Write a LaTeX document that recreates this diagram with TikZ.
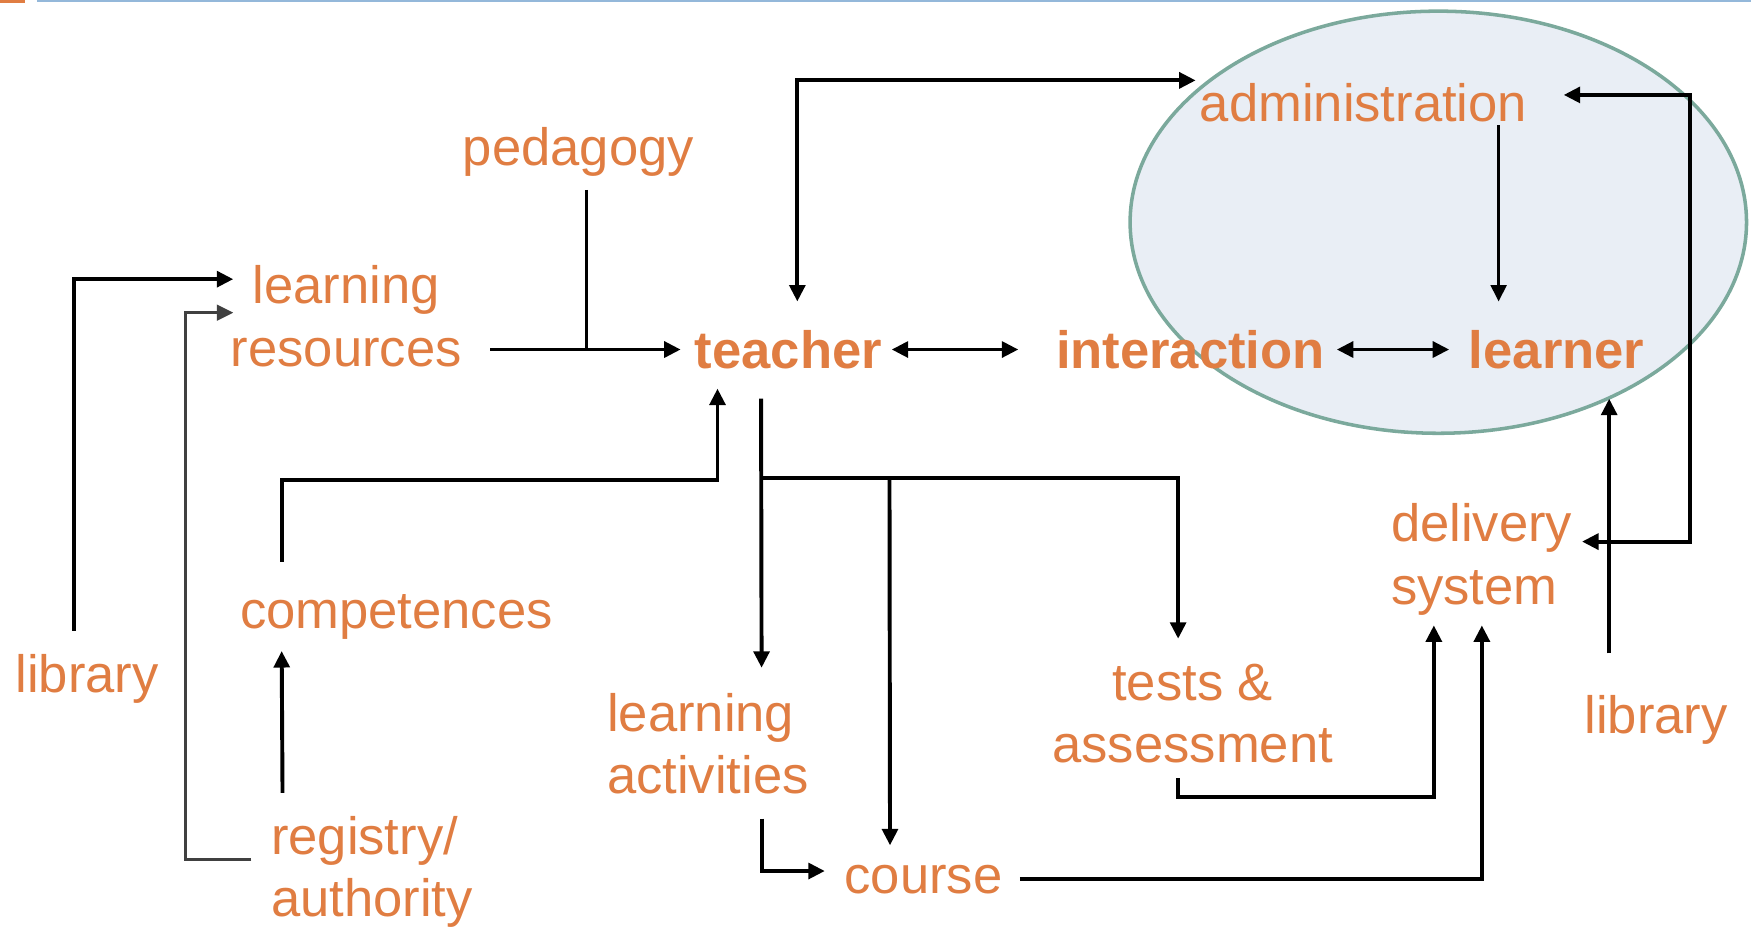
\documentclass[tikz,border=0pt]{standalone}
\usepackage{fontspec}
\setmainfont{Liberation Sans}
\usepackage{xcolor}
\usepackage{tikz}
\usetikzlibrary{calc,arrows.meta}
\definecolor{orng}{HTML}{E07D42}
\definecolor{rim}{HTML}{7BA99C}
\definecolor{pale}{HTML}{E9EEF5}
\definecolor{hdrblue}{HTML}{94B8DA}
\tikzset{
  lab/.style={text=orng, font=\fontsize{13.4pt}{15.9pt}\selectfont, inner sep=0pt, anchor=base},
  labb/.style={lab, font=\fontsize{13.4pt}{15.9pt}\selectfont\bfseries},
  link/.style={draw=black, line width=1pt},
  con/.style={link, -{Triangle[length=4.2pt,width=4pt]}},
  dbl/.style={link, {Triangle[length=4.2pt,width=4pt]}-{Triangle[length=4.2pt,width=4pt]}},
  ellip/.style={draw=rim, fill=pale, line width=0.9pt},
}
\begin{document}
\begin{tikzpicture}[x=0.1mm, y=-0.1mm]
  \useasboundingbox (0,0) rectangle (1568,831);
  % slide header
  \fill[orng] (0,0) rectangle (22,2.5);
  \draw[hdrblue, line width=0.5pt] (33,1) -- (1568,1);
  \draw[ellip] (1288,199) ellipse [x radius=276, y radius=189];

  % two-line labels sit on their last line
  \node[lab] (ped) at (518,148) {pedagogy};
  \node[lab, align=center] (lres) at (310,328) {learning\\resources};
  \node[labb] (teach) at (706,330) {teacher};
  \node[labb] (inter) at (1066,330) {interaction};
  \node[labb] (lrn) at (1394,330) {learner};
  \node[lab] (adm) at (1221,109) {administration};
  \node[lab] (comp) at (355,563) {competences};
  \node[lab] (libL) at (78,620) {library};
  \node[lab, anchor=base west, align=left] (reg) at (242,821) {registry/\\authority};
  \node[lab, anchor=base west, align=left] (lact) at (543,711) {learning\\activities};
  \node[lab] (course) at (827,800) {course};
  \node[lab, align=center] (tests) at (1068,683) {tests \&\\assessment};
  \node[lab, anchor=base west, align=left] (deliv) at (1245,541) {delivery\\system};
  \node[lab] (libR) at (1483,657) {library};

  % into learning resources and teacher
  \draw[con] ($(libL.base)+(-12,-55)$) |- ($(lres.base west)+(3,-78)$);
  \draw[con, draw=darkgray, line width=0.7pt] ($(reg.base west)+(-17,-51)$) -- ++(-59,0) |- ($(lres.base west)+(3,-48)$);
  \draw[con] ($(lres.base east)+(25,-15)$) -- ($(teach.base west)+(-12,-17)$);
  \draw[link, line width=0.8pt] ($(ped.base)+(7,22)$) -- ++(0,143);
  \draw[con] ($(comp.base west)+(38,-60)$) |- ($(teach.base west)+(21,100)$) -- ($(teach.base west)+(21,18)$);
  \draw[con] ($(reg.base west)+(11,-111)$) -- ($(comp.base west)+(38,20)$);

  % teacher, interaction, learner
  \draw[dbl] ($(teach.base east)+(8,-17)$) -- ($(inter.base west)+(-33,-17)$);
  \draw[dbl] ($(inter.base east)+(10,-17)$) -- ($(lrn.base west)+(-17,-17)$);
  \draw[dbl] ($(teach.base)+(8,-60)$) |- ($(adm.base west)+(-3,-37)$);
  \draw[con, line width=0.8pt] ($(adm.base)+(121,3)$) -- ($(lrn.base)+(-52,-60)$);
  \draw[dbl] ($(adm.base east)+(32,-24)$) -- ++(113,0) |- ($(deliv.base east)+(8,-56)$);
  \draw[con] ($(libR.base)+(-42,-72)$) -- ($(lrn.base)+(47,27)$);

  % teacher down to activities, course, tests
  \coordinate (tj) at ($(teach.base west)+(60,98)$);
  \draw[con] ($(teach.base west)+(60,27)$) -- ($(lact.base west)+(139,-113)$);
  \draw[con] (tj) -| ($(tests.base)+(-13,-111)$);
  \draw[con] ($(tj)+(115,0)$) -- ($(course.base)+(-30,-43)$);
  \draw[con] ($(lact.base west)+(139,22)$) |- ($(course.base west)+(-17,-20)$);
  \draw[con] ($(tests.base)+(-13,14)$) -- ++(0,17) -| ($(deliv.base west)+(39,19)$);
  \draw[con] ($(course.base east)+(15,-13)$) -| ($(deliv.base west)+(82,19)$);
\end{tikzpicture}
\end{document}
